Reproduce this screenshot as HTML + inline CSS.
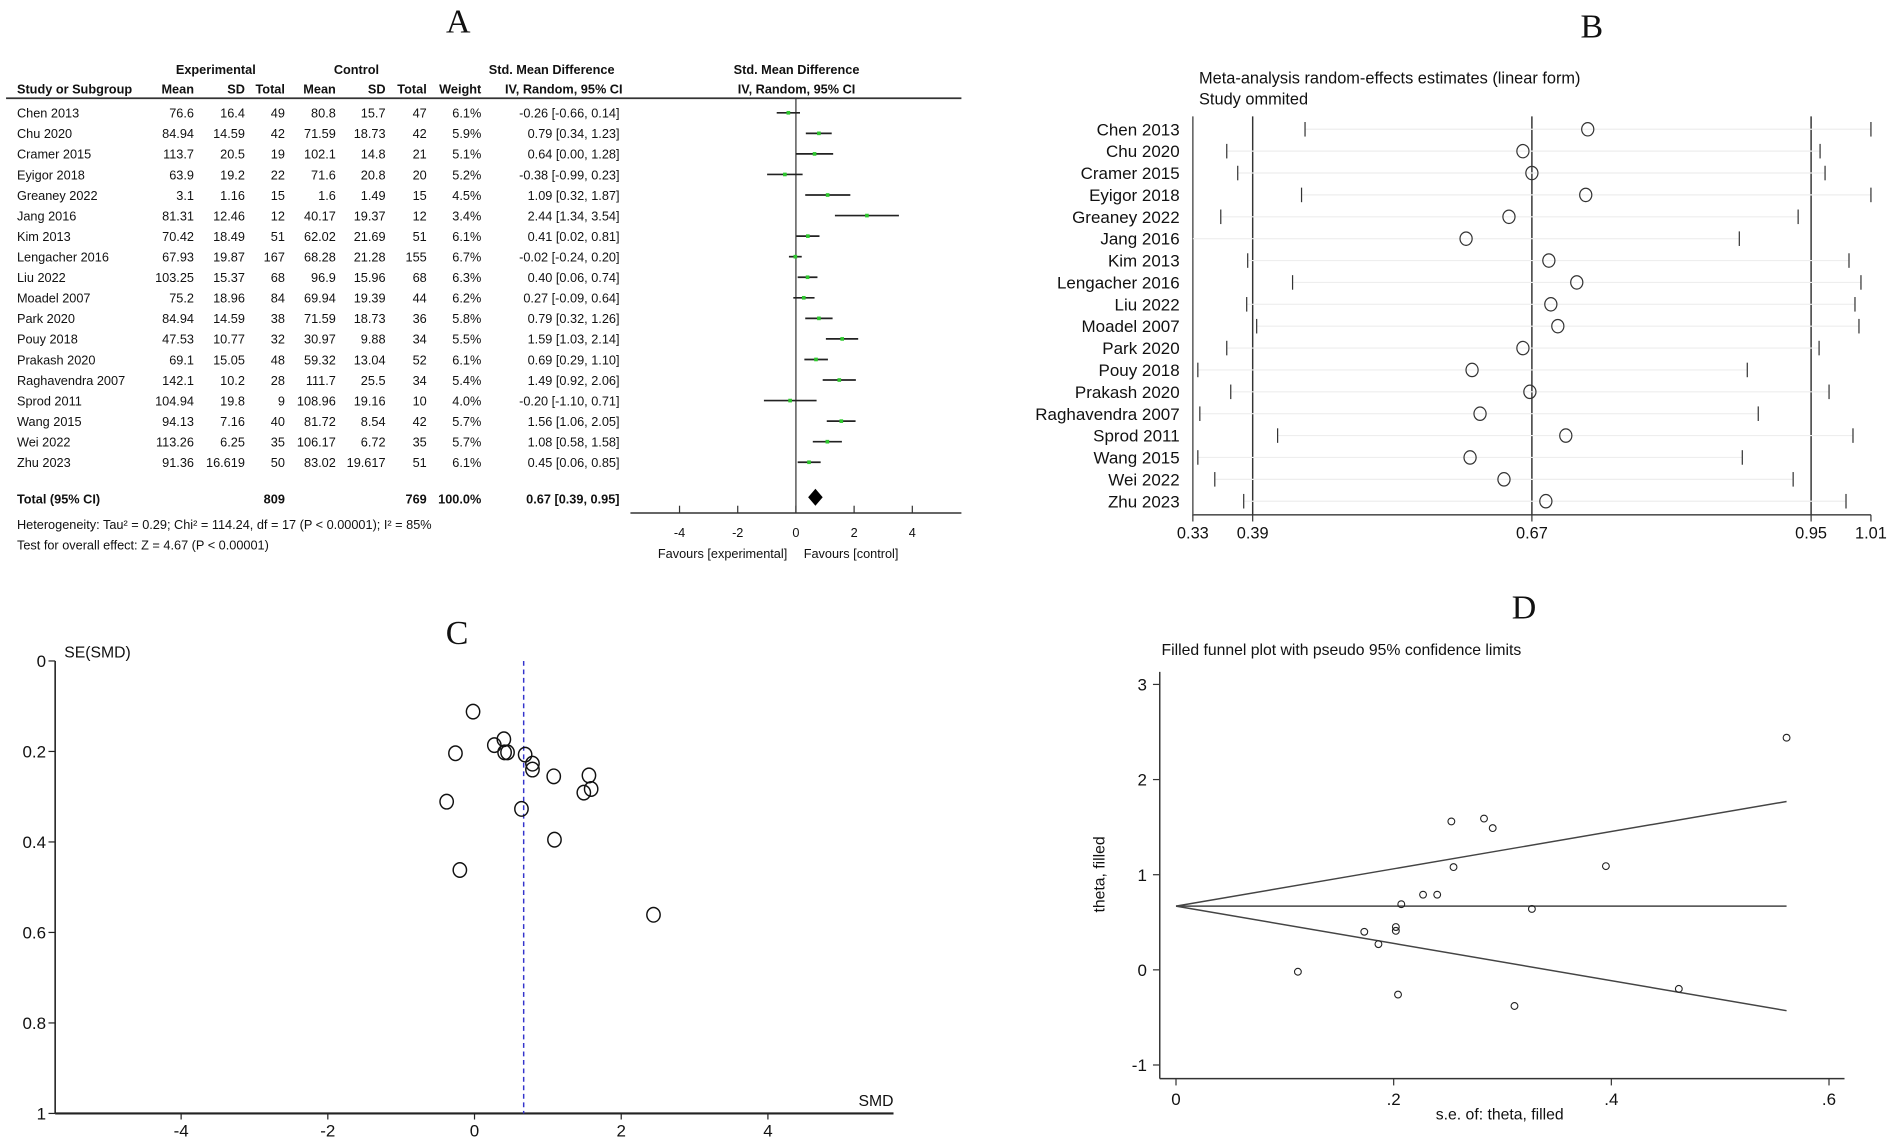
<!DOCTYPE html>
<html><head><meta charset="utf-8">
<style>
html,body{margin:0;padding:0;background:#fff;}
svg{display:block;}
text{font-family:"Liberation Sans",Arial,sans-serif;fill:#111;}
.serif{font-family:"Liberation Serif",serif;}
.na{font-family:"Liberation Sans Narrow","Liberation Sans",sans-serif;font-size:10.5px;}
</style></head>
<body>
<svg id="fig" width="1901" height="1140" viewBox="0 0 1568 940" preserveAspectRatio="none" xmlns="http://www.w3.org/2000/svg">
<g id="A"></g>
<g id="B"></g>
<g id="C"></g>
<g id="D"></g>
</svg>
<script>
const studies = ["Chen 2013","Chu 2020","Cramer 2015","Eyigor 2018","Greaney 2022","Jang 2016","Kim 2013","Lengacher 2016","Liu 2022","Moadel 2007","Park 2020","Pouy 2018","Prakash 2020","Raghavendra 2007","Sprod  2011","Wang 2015","Wei 2022","Zhu 2023"];
const expMean = ["76.6","84.94","113.7","63.9","3.1","81.31","70.42","67.93","103.25","75.2","84.94","47.53","69.1","142.1","104.94","94.13","113.26","91.36"];
const expSD = ["16.4","14.59","20.5","19.2","1.16","12.46","18.49","19.87","15.37","18.96","14.59","10.77","15.05","10.2","19.8","7.16","6.25","16.619"];
const expN = ["49","42","19","22","15","12","51","167","68","84","38","32","48","28","9","40","35","50"];
const ctlMean = ["80.8","71.59","102.1","71.6","1.6","40.17","62.02","68.28","96.9","69.94","71.59","30.97","59.32","111.7","108.96","81.72","106.17","83.02"];
const ctlSD = ["15.7","18.73","14.8","20.8","1.49","19.37","21.69","21.28","15.96","19.39","18.73","9.88","13.04","25.5","19.16","8.54","6.72","19.617"];
const ctlN = ["47","42","21","20","15","12","51","155","68","44","36","34","52","34","10","42","35","51"];
const weights = ["6.1%","5.9%","5.1%","5.2%","4.5%","3.4%","6.1%","6.7%","6.3%","6.2%","5.8%","5.5%","6.1%","5.4%","4.0%","5.7%","5.7%","6.1%"];
const smd = [-0.26,0.79,0.64,-0.38,1.09,2.44,0.41,-0.02,0.40,0.27,0.79,1.59,0.69,1.49,-0.20,1.56,1.08,0.45];
const ciLow = [-0.66,0.34,0.00,-0.99,0.32,1.34,0.02,-0.24,0.06,-0.09,0.32,1.03,0.29,0.92,-1.10,1.06,0.58,0.06];
const ciHigh = [0.14,1.23,1.28,0.23,1.87,3.54,0.81,0.20,0.74,0.64,1.26,2.14,1.10,2.06,0.71,2.05,1.58,0.85];
const se = [0.204,0.227,0.327,0.311,0.395,0.561,0.202,0.112,0.173,0.186,0.240,0.283,0.207,0.291,0.462,0.253,0.255,0.202];
const pooled = [0.67,0.39,0.95];
const forestTicks = [-4,-2,0,2,4];
// Panel B: leave-one-out estimates
const looEst = [0.726,0.661,0.670,0.724,0.647,0.604,0.687,0.715,0.689,0.696,0.661,0.610,0.668,0.618,0.704,0.608,0.642,0.684];
const looLow = [0.4425,0.364,0.375,0.439,0.358,0.30,0.385,0.430,0.384,0.394,0.364,0.335,0.368,0.337,0.415,0.335,0.352,0.381];
const looHigh = [1.01,0.959,0.964,1.01,0.937,0.878,0.988,1.000,0.994,0.998,0.958,0.886,0.968,0.897,0.992,0.881,0.932,0.985];
const looTicks = ["0.33","0.39","0.67","0.95","1.01"];
const funnelYTicks = [0,0.2,0.4,0.6,0.8,1];
const funnelXTicks = [-4,-2,0,2,4];
const filledYTicks = [3,2,1,0,-1];
const filledXTicks = [0,0.2,0.4,0.6];
const filledXLabels = ["0",".2",".4",".6"];

const NS="http://www.w3.org/2000/svg";
function mk(parent,tag,attrs,txt){const e=document.createElementNS(NS,tag);for(const k in attrs)e.setAttribute(k,attrs[k]);if(txt!==undefined)e.textContent=txt;parent.appendChild(e);return e;}
const A=document.getElementById('A'),B=document.getElementById('B'),C=document.getElementById('C'),D=document.getElementById('D');
let e;

// ---------- Panel A ----------
e=mk(A,'text',{x:378,y:27,'font-size':28,'text-anchor':'middle',class:'serif'},'A');


const hdr1=[["Experimental",178],["Control",294],["Std. Mean Difference",455],["Std. Mean Difference",657]];
hdr1.forEach(h=>{e=mk(A,'text',{x:h[1],y:61,'text-anchor':'middle',class:'na','font-weight':'bold'},h[0]);

});
const hdr2=[["Mean",160,'end'],["SD",202,'end'],["Total",235,'end'],["Mean",277,'end'],["SD",318,'end'],["Total",352,'end'],["Weight",397,'end'],["IV, Random, 95% CI",465,'middle'],["IV, Random, 95% CI",657,'middle']];
e=mk(A,'text',{x:14,y:77,class:'na','font-weight':'bold'},'Study or Subgroup');


hdr2.forEach(h=>{e=mk(A,'text',{x:h[1],y:77,'text-anchor':h[2],class:'na','font-weight':'bold'},h[0]);

});
mk(A,'line',{x1:5,y1:81,x2:793,y2:81,stroke:'#333','stroke-width':1.4});
const fx=v=>656.5+v*24;
const rowY=i=>97+i*16.95;
// zero line & axis
mk(A,'line',{x1:fx(0),y1:81,x2:fx(0),y2:423,stroke:'#333','stroke-width':1});
e=mk(A,'line',{x1:520,y1:423,x2:793,y2:423,stroke:'#333','stroke-width':1.3});


forestTicks.forEach(t=>{mk(A,'line',{x1:fx(t),y1:417,x2:fx(t),y2:423,stroke:'#333'});
e=mk(A,'text',{x:fx(t),y:443,'text-anchor':'middle',class:'na','font-size':11},String(t));

});
e=mk(A,'text',{x:596,y:460,'text-anchor':'middle',class:'na','font-size':10.5,fill:'#444'},'Favours [experimental]');


e=mk(A,'text',{x:702,y:460,'text-anchor':'middle',class:'na','font-size':10.5,fill:'#444'},'Favours [control]');


studies.forEach((s,i)=>{
  const y=rowY(i);
  const g=mk(A,'g',{});
  
  
  mk(g,'text',{x:14,y:y,class:'na'},s);
  const cols=[[expMean[i],160],[expSD[i],202],[expN[i],235],[ctlMean[i],277],[ctlSD[i],318],[ctlN[i],352],[weights[i],397]];
  cols.forEach(c=>mk(g,'text',{x:c[1],y:y,'text-anchor':'end',class:'na'},c[0]));
  const f=v=>v.toFixed(2).replace('-','-');
  mk(g,'text',{x:511,y:y,'text-anchor':'end',class:'na'},f(smd[i])+' ['+f(ciLow[i])+', '+f(ciHigh[i])+']');
  const ly=y-4;
  e=mk(g,'line',{x1:fx(ciLow[i]),y1:ly,x2:fx(ciHigh[i]),y2:ly,stroke:'#222','stroke-width':1.4});
  
  
  e=mk(g,'rect',{x:fx(smd[i])-1.5,y:ly-1.5,width:3,height:3,fill:'#2ec82e'});
  
  
});
const ty=415;
e=mk(A,'text',{x:14,y:ty,class:'na','font-weight':'bold'},'Total (95% CI)');


[["809",235],["769",352],["100.0%",397]].forEach(c=>mk(A,'text',{x:c[1],y:ty,'text-anchor':'end',class:'na','font-weight':'bold'},c[0]));
mk(A,'text',{x:511,y:ty,'text-anchor':'end',class:'na','font-weight':'bold'},pooled[0].toFixed(2)+' ['+pooled[1].toFixed(2)+', '+pooled[2].toFixed(2)+']');
e=mk(A,'polygon',{points:`${fx(pooled[0])-6},410 ${fx(pooled[0])},403 ${fx(pooled[0])+6},410 ${fx(pooled[0])},417`,fill:'#000'});


e=mk(A,'text',{x:14,y:436,class:'na'},'Heterogeneity: Tau² = 0.29; Chi² = 114.24, df = 17 (P < 0.00001); I² = 85%');


e=mk(A,'text',{x:14,y:453,class:'na'},'Test for overall effect: Z = 4.67 (P < 0.00001)');



// ---------- Panel B ----------
e=mk(B,'text',{x:1313,y:31,'font-size':28,'text-anchor':'middle',class:'serif'},'B');


e=mk(B,'text',{x:989,y:69,'font-size':13.5},'Meta-analysis random-effects estimates (linear form)');


mk(B,'text',{x:989,y:86,'font-size':13.5},'Study ommited');
const bx=v=>983.9+(v-0.33)*822.5;
const by=i=>106.6+i*18.04;
mk(B,'line',{x1:bx(0.33),y1:96,x2:bx(0.33),y2:425,stroke:'#555','stroke-width':1.2});
e=mk(B,'line',{x1:bx(0.33),y1:424.5,x2:bx(1.01),y2:424.5,stroke:'#555','stroke-width':1.4});


looTicks.forEach(t=>{const v=parseFloat(t);
  if(t!=="0.33"&&t!=="1.01") mk(B,'line',{x1:bx(v),y1:96,x2:bx(v),y2:424.5,stroke:'#333','stroke-width':1.2});
  mk(B,'line',{x1:bx(v),y1:424.5,x2:bx(v),y2:430,stroke:'#333'});
  e=mk(B,'text',{x:bx(v),y:444,'text-anchor':'middle','font-size':13.5},t);
  
  });
studies.forEach((s,i)=>{
  const y=by(i);
  const g=mk(B,'g',{});
  
  
  mk(g,'text',{x:973,y:y+5,'text-anchor':'end','font-size':14},s);
  const lo=Math.max(looLow[i],0.33);
  mk(g,'line',{x1:bx(lo),y1:y,x2:bx(looHigh[i]),y2:y,stroke:'#eee','stroke-width':1});
  if(looLow[i]>=0.33) mk(g,'line',{x1:bx(looLow[i]),y1:y-6,x2:bx(looLow[i]),y2:y+6,stroke:'#333','stroke-width':1});
  mk(g,'line',{x1:bx(looHigh[i]),y1:y-6,x2:bx(looHigh[i]),y2:y+6,stroke:'#333','stroke-width':1});
  e=mk(g,'ellipse',{cx:bx(looEst[i]),cy:y,rx:5,ry:5.5,fill:'none',stroke:'#333','stroke-width':1});
  
  
});

// ---------- Panel C ----------
e=mk(C,'text',{x:377,y:531,'font-size':28,'text-anchor':'middle',class:'serif'},'C');


const cx=v=>391.4+v*60.5;
const cy=v=>545+v*373.1;
mk(C,'line',{x1:45.5,y1:cy(0),x2:45.5,y2:cy(1),stroke:'#222','stroke-width':1.3});
e=mk(C,'line',{x1:45.5,y1:cy(1),x2:737,y2:cy(1),stroke:'#222','stroke-width':1.8});


funnelYTicks.forEach(t=>{mk(C,'line',{x1:40,y1:cy(t),x2:45.5,y2:cy(t),stroke:'#222'});
  e=mk(C,'text',{x:38,y:cy(t)+5,'text-anchor':'end','font-size':14},String(t));
  
  });
funnelXTicks.forEach(t=>{mk(C,'line',{x1:cx(t),y1:cy(1),x2:cx(t),y2:cy(1)+5,stroke:'#222'});
  e=mk(C,'text',{x:cx(t),y:937,'text-anchor':'middle','font-size':14},String(t));
  
  });
e=mk(C,'text',{x:53,y:542,'font-size':13},'SE(SMD)');


e=mk(C,'text',{x:737,y:912,'text-anchor':'end','font-size':13},'SMD');


e=mk(C,'line',{x1:cx(pooled[0]),y1:cy(0),x2:cx(pooled[0]),y2:cy(1),stroke:'#3333cc','stroke-width':1.2,'stroke-dasharray':'4,3'});


smd.forEach((v,i)=>{e=mk(C,'ellipse',{cx:cx(v),cy:cy(se[i]),rx:5.5,ry:6,fill:'none',stroke:'#111','stroke-width':1.2});
  
  });

// ---------- Panel D ----------
e=mk(D,'text',{x:1257,y:510,'font-size':28,'text-anchor':'middle',class:'serif'},'D');


e=mk(D,'text',{x:958,y:540,'font-size':13},'Filled funnel plot with pseudo 95% confidence limits');


const dx=v=>970+v*897.7;
const dy=v=>799.7-v*78.45;
mk(D,'line',{x1:956.6,y1:554,x2:956.6,y2:889.4,stroke:'#333','stroke-width':1.2});
e=mk(D,'line',{x1:956.6,y1:889.4,x2:1521.4,y2:889.4,stroke:'#333','stroke-width':1.2});


filledYTicks.forEach(t=>{mk(D,'line',{x1:951,y1:dy(t),x2:956.6,y2:dy(t),stroke:'#333'});
  e=mk(D,'text',{x:946,y:dy(t)+5,'text-anchor':'end','font-size':14},String(t));
  
  });
filledXTicks.forEach((t,k)=>{mk(D,'line',{x1:dx(t),y1:889.4,x2:dx(t),y2:895,stroke:'#333'});
  e=mk(D,'text',{x:dx(t),y:911,'text-anchor':'middle','font-size':14},filledXLabels[k]);
  
  });
e=mk(D,'text',{x:1237,y:923,'text-anchor':'middle','font-size':13},'s.e. of: theta, filled');


e=mk(D,'text',{x:0,y:0,'text-anchor':'middle','font-size':13,transform:'translate(911,721) rotate(-90)'},'theta, filled');


const seMax=Math.max(...se);
e=mk(D,'line',{x1:dx(0),y1:dy(pooled[0]),x2:dx(seMax),y2:dy(pooled[0]),stroke:'#444','stroke-width':1.2});


e=mk(D,'line',{x1:dx(0),y1:dy(pooled[0]),x2:dx(seMax),y2:dy(pooled[0]+1.96*seMax),stroke:'#444','stroke-width':1.2});


e=mk(D,'line',{x1:dx(0),y1:dy(pooled[0]),x2:dx(seMax),y2:dy(pooled[0]-1.96*seMax),stroke:'#444','stroke-width':1.2});


smd.forEach((v,i)=>{e=mk(D,'circle',{cx:dx(se[i]),cy:dy(v),r:2.8,fill:'none',stroke:'#222','stroke-width':0.9});
  
  });
</script>
</body></html>
